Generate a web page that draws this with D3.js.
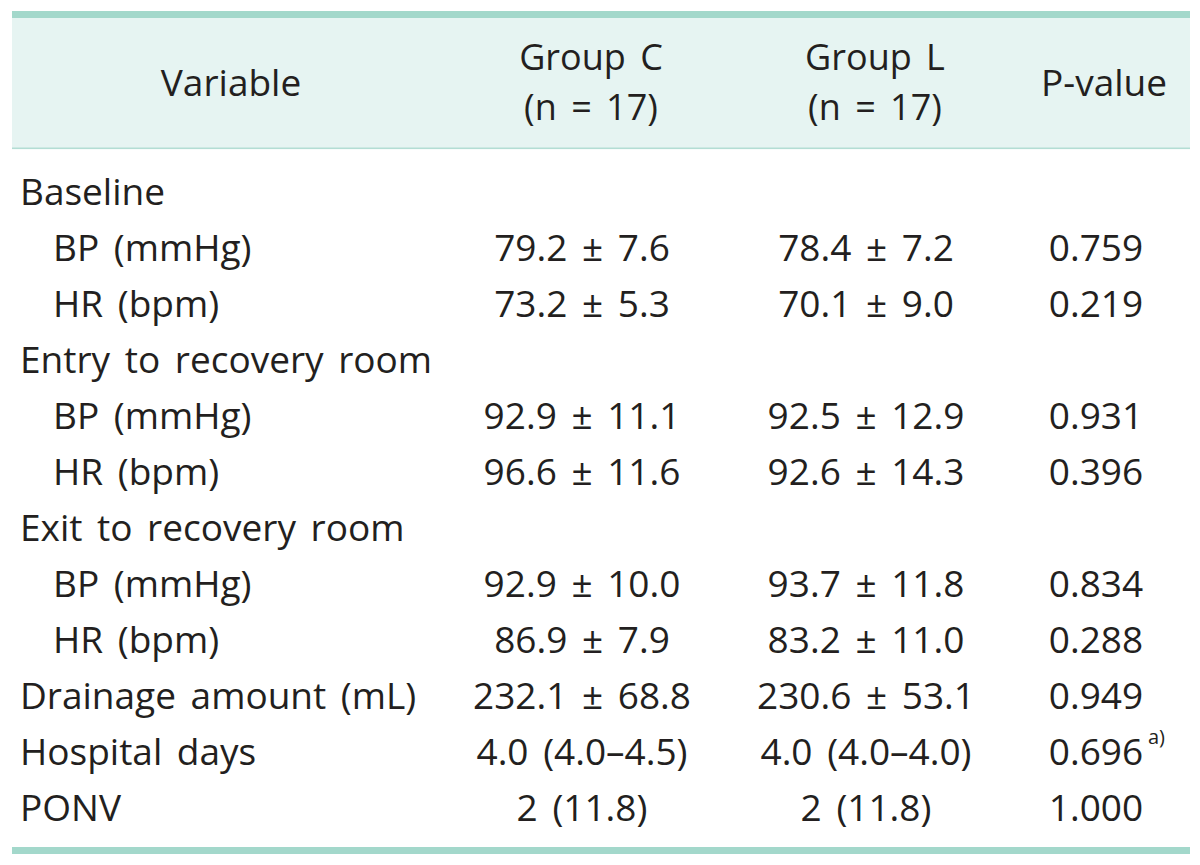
<!DOCTYPE html>
<html>
<head>
<meta charset="utf-8">
<script src="https://cdn.jsdelivr.net/npm/d3@7"></script>
<style>
  html, body { margin: 0; padding: 0; background: #ffffff; }
  svg { display: block; }
</style>
</head>
<body>
<svg id="chart" width="1200" height="865"></svg>
<script>
// ---- data ----
const headers = ["Variable", "Group C|(n = 17)", "Group L|(n = 17)", "P-value"];
const variables = [
  "Baseline", "BP (mmHg)", "HR (bpm)",
  "Entry to recovery room", "BP (mmHg)", "HR (bpm)",
  "Exit to recovery room", "BP (mmHg)", "HR (bpm)",
  "Drainage amount (mL)", "Hospital days", "PONV"
];
const indented = [false, true, true, false, true, true, false, true, true, false, false, false];
const groupC = ["", "79.2 ± 7.6", "73.2 ± 5.3", "", "92.9 ± 11.1", "96.6 ± 11.6", "", "92.9 ± 10.0", "86.9 ± 7.9", "232.1 ± 68.8", "4.0 (4.0–4.5)", "2 (11.8)"];
const groupL = ["", "78.4 ± 7.2", "70.1 ± 9.0", "", "92.5 ± 12.9", "92.6 ± 14.3", "", "93.7 ± 11.8", "83.2 ± 11.0", "230.6 ± 53.1", "4.0 (4.0–4.0)", "2 (11.8)"];
const pValues = ["", "0.759", "0.219", "", "0.931", "0.396", "", "0.834", "0.288", "0.949", "0.696", "1.000"];
const pNotes = ["", "", "", "", "", "", "", "", "", "", "a)", ""];

// ---- layout ----
const left = 12, right = 1190;
const font = "'Open Sans', Lato, sans-serif";
const fs = 37;
const textColor = "#231f20";

const svg = d3.select("#chart");

const rowIdx = d3.range(variables.length);
const y = d3.scalePoint().domain(rowIdx).range([191, 807]);
const colX = d3.scaleOrdinal().domain(["C", "L", "P"]).range([582, 866, 1096]);

// header background
svg.append("rect").attr("x", left).attr("y", 18).attr("width", right - left).attr("height", 130)
  .attr("fill", "#e6f4f2");
// top thick rule
svg.append("rect").attr("x", left).attr("y", 11).attr("width", right - left).attr("height", 7)
  .attr("fill", "#a3d8cb");
// header bottom thin rule
svg.append("rect").attr("x", left).attr("y", 147.5).attr("width", right - left).attr("height", 1.6)
  .attr("fill", "#b3ddd4");
// bottom thick rule
svg.append("rect").attr("x", left).attr("y", 847).attr("width", right - left).attr("height", 7)
  .attr("fill", "#a3d8cb");

const g = svg.append("g").attr("font-family", font).attr("font-size", fs)
  .attr("fill", textColor).attr("word-spacing", 5);

// headers (two-line headers as separate text elements)
const hdrX = [231, 591, 875, 1104];
headers.forEach((h, i) => {
  const lines = h.split("|");
  if (lines.length === 1) {
    g.append("text").attr("text-anchor", "middle").attr("x", hdrX[i]).attr("y", 96).text(lines[0]);
  } else {
    g.append("text").attr("text-anchor", "middle").attr("font-size", 36)
      .attr("x", hdrX[i]).attr("y", 70).text(lines[0]);
    g.append("text").attr("text-anchor", "middle").attr("font-size", 36)
      .attr("x", hdrX[i]).attr("y", 120).text(lines[1]);
  }
});

const base = 13.5; // baseline offset from row center

// variable labels
g.selectAll("text.var").data(rowIdx).join("text").attr("class", "var")
  .attr("x", d => indented[d] ? 53 : 20)
  .attr("y", d => y(d) + base)
  .text(d => variables[d]);

// group C
g.selectAll("text.gc").data(rowIdx.filter(d => groupC[d])).join("text").attr("class", "gc")
  .attr("x", colX("C")).attr("y", d => y(d) + base).attr("text-anchor", "middle")
  .text(d => groupC[d]);

// group L
g.selectAll("text.gl").data(rowIdx.filter(d => groupL[d])).join("text").attr("class", "gl")
  .attr("x", colX("L")).attr("y", d => y(d) + base).attr("text-anchor", "middle")
  .text(d => groupL[d]);

// p-values
g.selectAll("text.pv").data(rowIdx.filter(d => pValues[d])).join("text").attr("class", "pv")
  .attr("x", colX("P")).attr("y", d => y(d) + base).attr("text-anchor", "middle")
  .text(d => pValues[d]);

// superscript notes
rowIdx.filter(d => pNotes[d]).forEach(d => {
  g.append("text").attr("x", colX("P") + 52).attr("y", y(d) + base - 21)
    .attr("font-size", 20).text(pNotes[d]);
});
</script>
</body>
</html>
